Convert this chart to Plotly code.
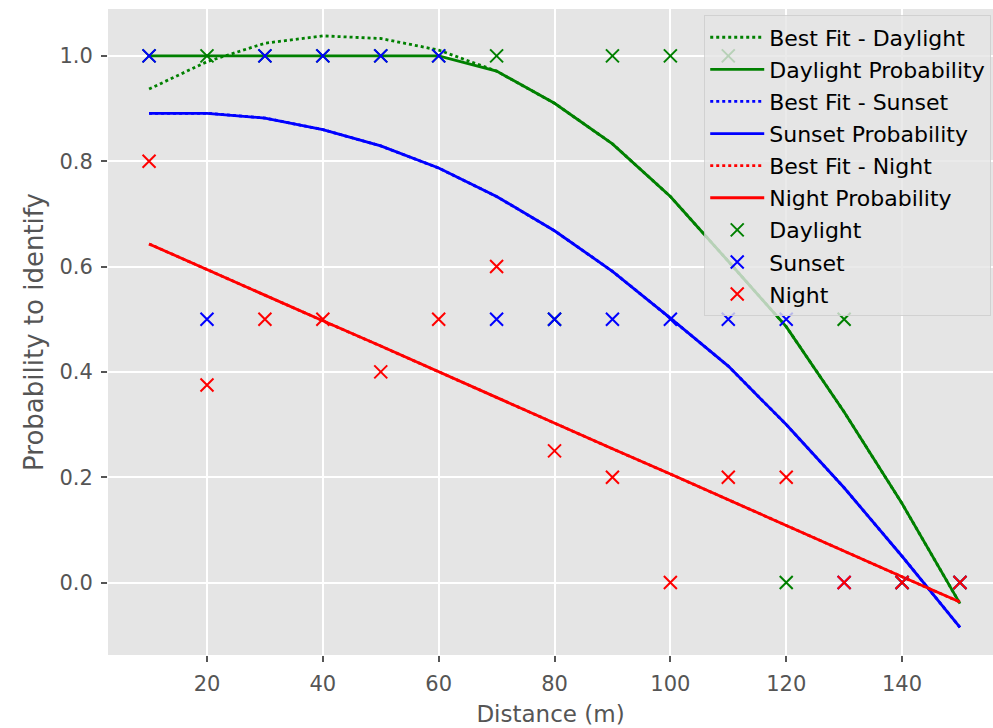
import plotly.graph_objects as go

distance = [10, 20, 30, 40, 50, 60, 70, 80, 90, 100, 110, 120, 130, 140, 150]

daylight_obs = [1, 1, 1, 1, 1, 1, 1, 0.5, 1, 1, 1, 0, 0.5, 0, 0]
sunset_obs = [1, 0.5, 1, 1, 1, 1, 0.5, 0.5, 0.5, 0.5, 0.5, 0.5, 0, 0, 0]
night_obs = [0.8, 0.375, 0.5, 0.5, 0.4, 0.5, 0.6, 0.25, 0.2, 0, 0.2, 0.2, 0, 0, 0]

daylight_fit = [0.937, 0.989, 1.024, 1.038, 1.033, 1.011, 0.971, 0.910, 0.833,
                0.733, 0.610, 0.486, 0.324, 0.150, -0.040]
daylight_prob = [1.0, 1.0, 1.0, 1.0, 1.0, 1.0, 0.971, 0.910, 0.833,
                 0.733, 0.610, 0.486, 0.324, 0.150, -0.040]
sunset_fit = [0.891, 0.891, 0.882, 0.860, 0.829, 0.787, 0.733, 0.668, 0.591,
              0.502, 0.411, 0.300, 0.180, 0.050, -0.085]
sunset_prob = [0.891, 0.891, 0.882, 0.860, 0.829, 0.787, 0.733, 0.668, 0.591,
               0.502, 0.411, 0.300, 0.180, 0.050, -0.085]
night_fit = [0.643, 0.594, 0.546, 0.497, 0.449, 0.400, 0.351, 0.303, 0.254,
             0.206, 0.157, 0.109, 0.060, 0.011, -0.037]
night_prob = [0.643, 0.594, 0.546, 0.497, 0.449, 0.400, 0.351, 0.303, 0.254,
              0.206, 0.157, 0.109, 0.060, 0.011, -0.037]

y_ticks = [0.0, 0.2, 0.4, 0.6, 0.8, 1.0]
x_ticks = [20, 40, 60, 80, 100, 120, 140]

FONT = "DejaVu Sans"
GRAY = "#555555"
LW = 2.8

fig = go.Figure()
counter = [0]

def grp():
    counter[0] += 1
    return "g%d" % counter[0]

def line(y, name, color, dash):
    fig.add_trace(go.Scatter(x=distance, y=y, name=name, mode="lines",
                             legendgroup=grp(),
                             line=dict(color=color, width=LW, dash=dash)))

line(daylight_fit, "Best Fit - Daylight", "green", "dot")
line(daylight_prob, "Daylight Probability", "green", "solid")
line(sunset_fit, "Best Fit - Sunset", "blue", "dot")
line(sunset_prob, "Sunset Probability", "blue", "solid")
line(night_fit, "Best Fit - Night", "red", "dot")
line(night_prob, "Night Probability", "red", "solid")

def pts(y, name, color):
    fig.add_trace(go.Scatter(x=distance, y=y, name=name, mode="markers",
                             legendgroup=grp(),
                             marker=dict(symbol="x-thin", size=13, color=color,
                                         line=dict(color=color, width=2))))

pts(daylight_obs, "Daylight", "green")
pts(sunset_obs, "Sunset", "blue")
pts(night_obs, "Night", "red")

axis_common = dict(
    showgrid=True, gridcolor="white", gridwidth=1.6,
    zeroline=False, showline=False,
    ticks="outside", ticklen=6, tickwidth=1.5, tickcolor=GRAY,
    tickfont=dict(family=FONT, size=21, color=GRAY),
)

fig.update_layout(
    width=993, height=728,
    margin=dict(l=108, r=0, t=9, b=73),
    paper_bgcolor="white",
    plot_bgcolor="#E5E5E5",
    font=dict(family=FONT, color=GRAY),
    xaxis=dict(range=[2.91, 155.7], tickvals=x_ticks, ticklabelstandoff=4,
               title=dict(text="Distance (m)", font=dict(family=FONT, size=23, color=GRAY), standoff=10),
               **axis_common),
    yaxis=dict(range=[-0.1375, 1.089], tickvals=y_ticks, tickformat=".1f", ticklabelstandoff=4,
               title=dict(text="Probability to identify", font=dict(family=FONT, size=26, color=GRAY), standoff=8),
               **axis_common),
    legend=dict(x=0.998, xanchor="right", y=0.99, yanchor="top",
                bgcolor="rgba(229,229,229,0.8)", bordercolor="rgba(204,204,204,0.8)",
                borderwidth=1, itemwidth=54, traceorder="grouped", tracegroupgap=0.5,
                font=dict(family=FONT, size=22, color="black")),
    showlegend=True,
)

fig.write_html("out.html")
